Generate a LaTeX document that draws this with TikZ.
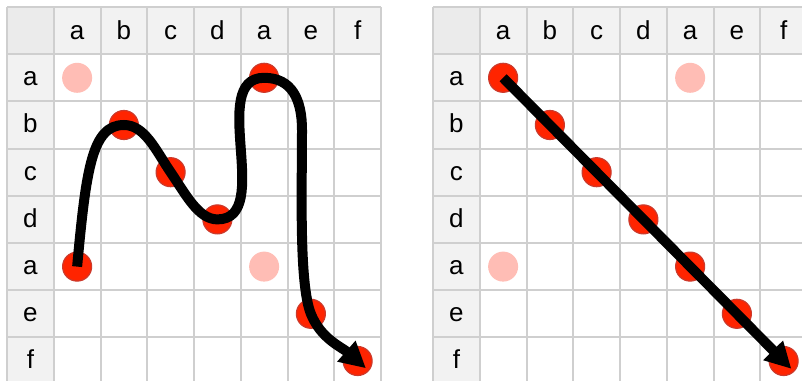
\documentclass[tikz,border=0pt]{standalone}
\usepackage{fontspec}
\setmainfont{Liberation Sans}
\usepackage{tikz}
\usetikzlibrary{arrows.meta}
\definecolor{GridLine}{HTML}{CFCFCF}
\definecolor{HeadFill}{HTML}{F2F2F2}
\definecolor{CornerFill}{HTML}{EBEBEB}
\definecolor{DotRed}{HTML}{FF2400}
\definecolor{DotEdge}{HTML}{CC3A2C}
\definecolor{DotPale}{HTML}{FFBDB5}
\def\cw{46.75}
\def\ch{47.2}

\begin{document}
\begin{tikzpicture}[
    x=1pt, y=-1pt,
    >={Triangle[length=26pt,width=26pt]},
    every node/.style={font=\fontsize{26}{30}\selectfont},
    headtext/.style={anchor=base, inner sep=0pt},
    cellrule/.style={draw=GridLine, line width=2pt},
    hit/.style={circle, fill=DotRed, draw=DotEdge, line width=1.2pt, minimum size=29pt, inner sep=0pt},
    miss/.style={circle, fill=DotPale, minimum size=30pt, inner sep=0pt},
    trail/.style={->, line width=10pt, shorten >=-11pt}
]
\clip (0,0) rectangle (802,380);
\fill[white] (0,0) rectangle (802,380);

% the two tables
\foreach \gx/\g in {7/l,433/r} {
  \begin{scope}[shift={(\gx,7)}]
    \fill[HeadFill] (0,0) rectangle ({8*\cw},\ch);
    \fill[HeadFill] (0,0) rectangle (\cw,{8*\ch});
    \fill[CornerFill] (0,0) rectangle (\cw,\ch);
    \foreach \k in {0,...,8} {
      \draw[cellrule] ({\k*\cw},0) -- ({\k*\cw},{8*\ch});
      \draw[cellrule] (0,{\k*\ch}) -- ({8*\cw},{\k*\ch});
    }
    \foreach \t [count=\i] in {a,b,c,d,a,e,f} {
      \node[headtext] (\g col\i) at ({(\i+0.5)*\cw},32.5) {\t};
      \node[headtext] (\g row\i) at ({0.5*\cw},{\i*\ch+31.5}) {\t};
    }
  \end{scope}
}

% matches
\node[miss] (lp1) at ({7+1.5*\cw},{7+1.5*\ch}) {};
\node[miss] (lp2) at ({7+5.5*\cw},{7+5.5*\ch}) {};
\node[miss] (rp1) at ({433+5.5*\cw},{7+1.5*\ch}) {};
\node[miss] (rp2) at ({433+1.5*\cw},{7+5.5*\ch}) {};
\foreach \c/\r [count=\n] in {1/5,2/2,3/3,4/4,5/1,6/6,7/7} {
  \node[hit] (l\n) at ({7+(\c+0.5)*\cw},{7+(\r+0.5)*\ch}) {};
}
\foreach \c [count=\n] in {1,...,7} {
  \node[hit] (r\n) at ({433+(\c+0.5)*\cw},{7+(\c+0.5)*\ch}) {};
}

% paths
\draw[trail] (l1.center) .. controls +(9,-97) and +(-32,0) .. (l2.center)
  .. controls +(21,0) and +(-15,-22) .. (l3.center)
  .. controls +(15,22) and +(-19,0) .. (l4.center)
  .. controls +(57,0) and +(-57,0) .. (l5.center)
  .. controls +(28,0) and +(0,-30) .. (302,130)
  .. controls +(0,60) and +(-12,-30) .. (l6.center)
  .. controls +(10,25) and +(-16,-14) .. (l7.center);
\draw[trail] (r1.center) -- (r7.center);
\end{tikzpicture}
\end{document}
